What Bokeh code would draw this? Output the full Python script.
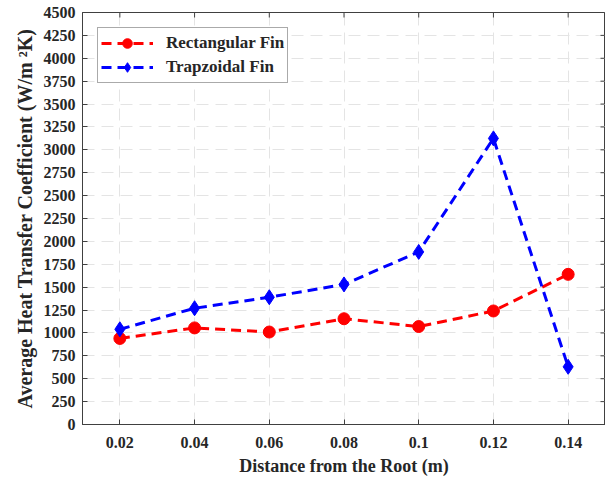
import math
from bokeh.plotting import figure
from bokeh.models import Range1d, FixedTicker, Legend, LegendItem
from bokeh.embed import file_html
from bokeh.resources import INLINE

# Heat transfer coefficient along the fin
distance = [0.02, 0.04, 0.06, 0.08, 0.10, 0.12, 0.14]
rectangular = [940, 1055, 1010, 1155, 1070, 1240, 1640]
trapezoidal = [1040, 1270, 1390, 1530, 1885, 3125, 630]

x_ticks = [0.02, 0.04, 0.06, 0.08, 0.10, 0.12, 0.14]
x_tick_labels = ["0.02", "0.04", "0.06", "0.08", "0.1", "0.12", "0.14"]
y_ticks = list(range(0, 4501, 250))
x_min, x_max = 0.01, 0.15
y_min, y_max = 0, 4500

FONT = "Liberation Serif"
TEXT = "#262626"
AXIS = "#404040"

p = figure(width=605, height=478, output_backend="svg", toolbar_location=None,
           x_range=Range1d(x_min, x_max), y_range=Range1d(y_min, y_max),
           min_border_left=82, min_border_right=0, min_border_top=12,
           min_border_bottom=54)
p.background_fill_color = "white"
p.border_fill_color = "white"
p.outline_line_color = AXIS
p.outline_line_width = 1

for ax in (p.xaxis[0], p.yaxis[0]):
    ax.axis_line_color = AXIS
    ax.major_tick_line_color = AXIS
    ax.major_tick_in = 5
    ax.major_tick_out = 0
    ax.minor_tick_line_color = None
    ax.major_label_text_font = FONT
    ax.major_label_text_font_style = "bold"
    ax.major_label_text_font_size = "16px"
    ax.major_label_text_color = TEXT
    ax.axis_label_text_font = FONT
    ax.axis_label_text_font_style = "bold"
    ax.axis_label_text_color = TEXT

p.xaxis.ticker = FixedTicker(ticks=x_ticks)
p.xaxis.major_label_overrides = {t: lab for t, lab in zip(x_ticks, x_tick_labels)}
p.xaxis.axis_label = "Distance from the Root (m)"
p.xaxis.axis_label_text_font_size = "18px"
p.xaxis.major_label_standoff = 12
p.xaxis.axis_label_standoff = 5

p.yaxis.ticker = FixedTicker(ticks=y_ticks)
p.yaxis.axis_label = "Average Heat Transfer Coefficient (W/m ²K)"
p.yaxis.axis_label_text_font_size = "20px"
p.yaxis.major_label_standoff = 7
p.yaxis.axis_label_standoff = 5

# inward ticks on the top and right edges of the box
p.ray(x=x_ticks, y=y_max, length=5, length_units="screen", angle=-math.pi / 2,
      line_color=AXIS, line_width=1)
p.ray(x=x_max, y=y_ticks, length=5, length_units="screen", angle=math.pi,
      line_color=AXIS, line_width=1)

p.xgrid.ticker = FixedTicker(ticks=x_ticks)
p.ygrid.ticker = FixedTicker(ticks=y_ticks)
for g in (p.xgrid[0], p.ygrid[0]):
    g.grid_line_color = "#e4e4e4"
    g.grid_line_dash = "12 7"
    g.grid_line_width = 1

rl = p.line(distance, rectangular, line_color="red", line_width=3, line_dash="10 6")
rm = p.scatter(distance, rectangular, marker="circle", size=12, fill_color="red",
               line_color="red")
tl = p.line(distance, trapezoidal, line_color="blue", line_width=3, line_dash="10 6")
tm = p.scatter(distance, trapezoidal, marker="diamond", size=15, fill_color="blue",
               line_color="blue")

legend = Legend(items=[LegendItem(label="Rectangular Fin", renderers=[rl, rm]),
                       LegendItem(label="Trapzoidal Fin", renderers=[tl, tm])],
                location="top_left")
legend.margin = 15
legend.padding = 3
legend.spacing = -3
legend.glyph_width = 52
legend.glyph_height = 24
legend.label_standoff = 13
legend.label_height = 20
legend.label_text_font = FONT
legend.label_text_font_style = "bold"
legend.label_text_font_size = "17px"
legend.label_text_color = TEXT
legend.border_line_color = "#555555"
legend.border_line_width = 1
legend.background_fill_color = "white"
legend.background_fill_alpha = 1
p.add_layout(legend)

open("out.html", "w").write(file_html(p, INLINE))
